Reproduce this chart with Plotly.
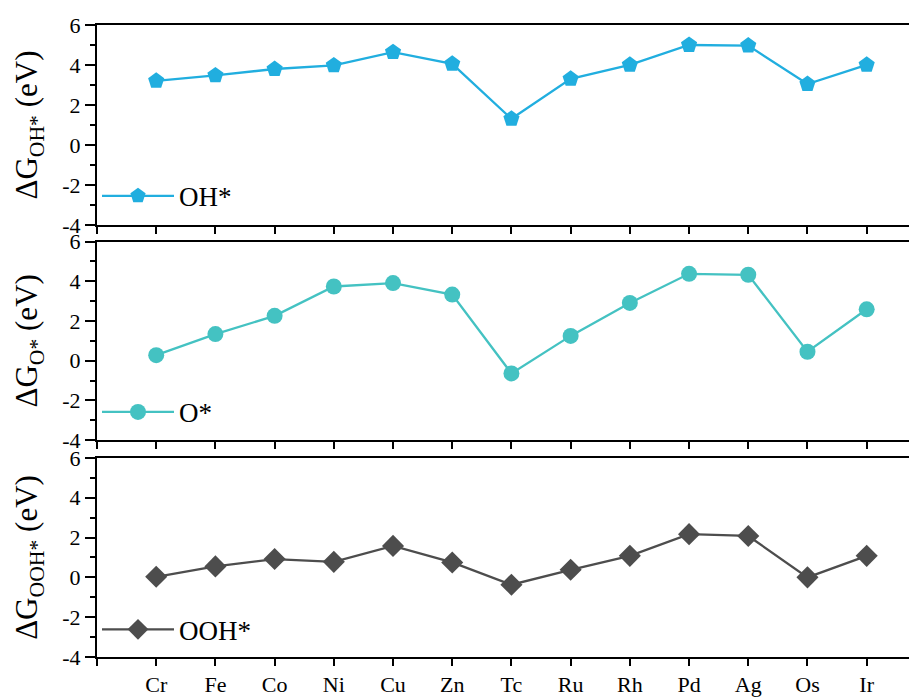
import plotly.graph_objects as go

metals = ["Cr", "Fe", "Co", "Ni", "Cu", "Zn", "Tc", "Ru", "Rh", "Pd", "Ag", "Os", "Ir"]
g_oh = [3.21, 3.48, 3.80, 3.98, 4.64, 4.06, 1.31, 3.31, 4.01, 5.00, 4.97, 3.05, 4.01]
g_o = [0.28, 1.34, 2.26, 3.74, 3.91, 3.33, -0.64, 1.25, 2.91, 4.38, 4.33, 0.45, 2.59]
g_ooh = [0.03, 0.55, 0.92, 0.78, 1.58, 0.75, -0.37, 0.38, 1.08, 2.17, 2.08, 0.00, 1.08]

y_ticks = [-4, -2, 0, 2, 4, 6]
y_tick_labels = ["-4", "-2", "0", "2", "4", "6"]
series_names = ["OH*", "O*", "OOH*"]
y_titles = ["ΔG<sub>OH*</sub> (eV)", "ΔG<sub>O*</sub> (eV)", "ΔG<sub>OOH*</sub> (eV)"]
colors = ["#21aedf", "#44c2c2", "#4d4d4d"]
symbols = ["pentagon", "circle", "diamond"]
sizes = [17, 16, 17]
data = [g_oh, g_o, g_ooh]

FONT = "Liberation Serif"
x_idx = list(range(len(metals)))

fig = go.Figure()
# domains in paper fraction (plot height 635 px)
domains = [[0.6835, 1.0], [0.3433, 0.6572], [0.0, 0.315]]
legend_y = [0.729, 0.387, 0.043]

for i in range(3):
    ax = "" if i == 0 else str(i + 1)
    lg = "legend" if i == 0 else "legend" + str(i + 1)
    fig.add_trace(go.Scatter(
        x=x_idx, y=data[i], mode="lines+markers", name=series_names[i],
        line=dict(color=colors[i], width=2.3),
        marker=dict(symbol=symbols[i], size=sizes[i], color=colors[i]),
        xaxis="x" + ax, yaxis="y" + ax, legend=lg,
    ))
    show_labels = (i == 2)
    fig.update_layout(**{
        "xaxis" + ax: dict(
            domain=[0, 1], anchor="y" + ax, range=[-1, 12.85],
            tickvals=[-1] + x_idx, ticktext=[""] + metals,
            showticklabels=show_labels, ticks="outside", ticklen=7, tickwidth=2,
            tickcolor="black", showline=True, linecolor="black", linewidth=2,
            mirror=True, showgrid=False, zeroline=False,
            tickfont=dict(family=FONT, size=22, color="black"),
        ),
        "yaxis" + ax: dict(
            domain=domains[i], anchor="x" + ax, range=[-4, 6],
            tickvals=y_ticks, ticktext=y_tick_labels,
            ticks="outside", ticklen=10, tickwidth=2,
            tickcolor="black", showline=True, linecolor="black", linewidth=2,
            showgrid=False, zeroline=False,
            minor=dict(tickvals=[-3, -1, 1, 3, 5], ticks="outside", ticklen=5,
                       tickwidth=2, tickcolor="black"),
            tickfont=dict(family=FONT, size=22, color="black"),
            title=dict(text=y_titles[i], font=dict(family=FONT, size=31, color="black"),
                       standoff=15),
        ),
        lg: dict(
            x=0.0, y=legend_y[i], xanchor="left", yanchor="middle",
            bgcolor="rgba(0,0,0,0)", itemwidth=72,
            font=dict(family=FONT, size=27, color="black"),
        ),
    })

fig.update_layout(
    width=909, height=689,
    margin=dict(l=89, r=0, t=17, b=37),
    plot_bgcolor="white", paper_bgcolor="white",
    showlegend=True,
)

fig.write_html("out.html")
